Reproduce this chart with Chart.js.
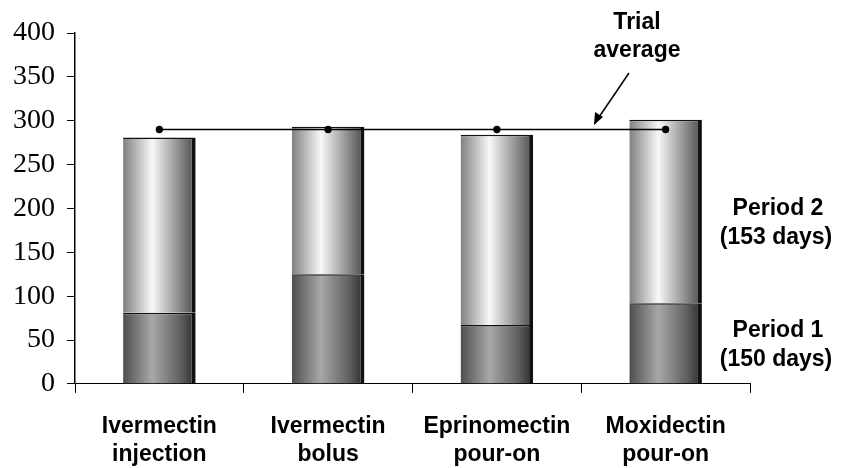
<!DOCTYPE html>
<html>
<head>
<meta charset="utf-8">
<script src="https://cdn.jsdelivr.net/npm/chart.js@4/dist/chart.umd.min.js"></script>
<style>
  html, body { margin: 0; padding: 0; background: #fff; }
  #wrap { width: 841px; height: 468px; }
</style>
</head>
<body>
<div id="wrap"><canvas id="myChart" width="841" height="468"></canvas></div>
<script>
// DATA
const treatments = [
  ['Ivermectin', 'injection'],
  ['Ivermectin', 'bolus'],
  ['Eprinomectin', 'pour-on'],
  ['Moxidectin', 'pour-on']
];
const period1 = [81, 125, 67, 92];
const period2 = [200, 168, 217, 209];
const trialAverage = [290, 290, 290, 290];
const yTicks = [0, 50, 100, 150, 200, 250, 300, 350, 400];

// bar shading: dark edges, light middle (like the halftone cylinders)
function shade(stops) {
  return function(context) {
    const chart = context.chart;
    const xs = chart.scales.x;
    if (!xs || !chart.chartArea) return stops[1];
    const cx = xs.getPixelForValue(context.dataIndex);
    const w = (xs.width / treatments.length) * 0.43;
    const g = chart.ctx.createLinearGradient(cx - w / 2, 0, cx + w / 2, 0);
    g.addColorStop(0, stops[0]);
    g.addColorStop(0.4, stops[1]);
    g.addColorStop(0.8, stops[2]);
    g.addColorStop(1, stops[3]);
    return g;
  };
}

// text notes and arrow
const notes = {
  id: 'notes',
  afterDraw: function(chart) {
    const ctx = chart.ctx;
    ctx.save();
    ctx.fillStyle = '#000';
    ctx.font = 'bold 23px "Liberation Sans", Arial, sans-serif';
    ctx.textAlign = 'center';
    ctx.textBaseline = 'middle';
    ctx.fillText('Trial', 637, 23);
    ctx.fillText('average', 637, 51);
    ctx.fillText('Period 2', 778, 209);
    ctx.fillText('(153 days)', 776, 238);
    ctx.fillText('Period 1', 778, 331);
    ctx.fillText('(150 days)', 776, 360);

    // arrow
    ctx.strokeStyle = '#000';
    ctx.lineWidth = 1.5;
    ctx.beginPath();
    ctx.moveTo(629, 73);
    ctx.lineTo(595, 123);
    ctx.stroke();
    ctx.beginPath();
    ctx.moveTo(594, 125);
    ctx.lineTo(595, 112);
    ctx.lineTo(603, 117);
    ctx.closePath();
    ctx.fill();
    ctx.restore();
  }
};

const ctx = document.getElementById('myChart').getContext('2d');
const myChart = new Chart(ctx, {
  data: {
    labels: treatments,
    datasets: [
      {
        type: 'line',
        label: 'Trial average',
        data: trialAverage,
        stack: 'avg',
        borderColor: '#000',
        borderWidth: 1.3,
        pointRadius: 3,
        pointBackgroundColor: '#000',
        pointBorderColor: '#000',
        fill: false,
        order: 0
      },
      {
        type: 'bar',
        label: 'Period 1',
        data: period1,
        stack: 'p',
        backgroundColor: shade(['#4e4e4e', '#a8a8a8', '#5e5e5e', '#2a2a2a']),
        borderColor: '#111',
        borderWidth: { top: 1.5, right: 4, left: 0, bottom: 0 },
        borderSkipped: false,
        barPercentage: 0.43,
        categoryPercentage: 1,
        order: 1
      },
      {
        type: 'bar',
        label: 'Period 2',
        data: period2,
        stack: 'p',
        backgroundColor: shade(['#808080', '#f8f8f8', '#858585', '#4a4a4a']),
        borderColor: '#111',
        borderWidth: { top: 1.5, right: 4, left: 0, bottom: 0 },
        borderSkipped: false,
        barPercentage: 0.43,
        categoryPercentage: 1,
        order: 1
      }
    ]
  },
  options: {
    responsive: false,
    animation: false,
    layout: { padding: { top: 33, right: 91, left: 1, bottom: -21 } },
    plugins: {
      legend: { display: false },
      tooltip: { enabled: false }
    },
    scales: {
      x: {
        stacked: true,
        offset: true,
        grid: {
          offset: true,
          drawOnChartArea: false,
          drawTicks: true,
          tickLength: 9,
          color: '#000',
          tickColor: '#000',
          lineWidth: 1
        },
        border: { color: '#000', width: 1 },
        ticks: {
          color: '#000',
          padding: 20,
          maxRotation: 0,
          autoSkip: false,
          font: { family: '"Liberation Sans", Arial, sans-serif', size: 23, weight: 'bold', lineHeight: 1.22 }
        }
      },
      y: {
        stacked: true,
        min: 0,
        max: 400,
        afterBuildTicks: function(axis) {
          axis.ticks = yTicks.map(function(v) { return { value: v }; });
        },
        grid: {
          drawOnChartArea: false,
          tickLength: 8,
          tickColor: '#000'
        },
        border: { color: '#000', width: 1.5 },
        ticks: {
          color: '#000',
          padding: 12,
          font: { family: '"Liberation Serif", "Times New Roman", serif', size: 28 }
        }
      }
    }
  },
  plugins: [notes]
});
</script>
</body>
</html>
